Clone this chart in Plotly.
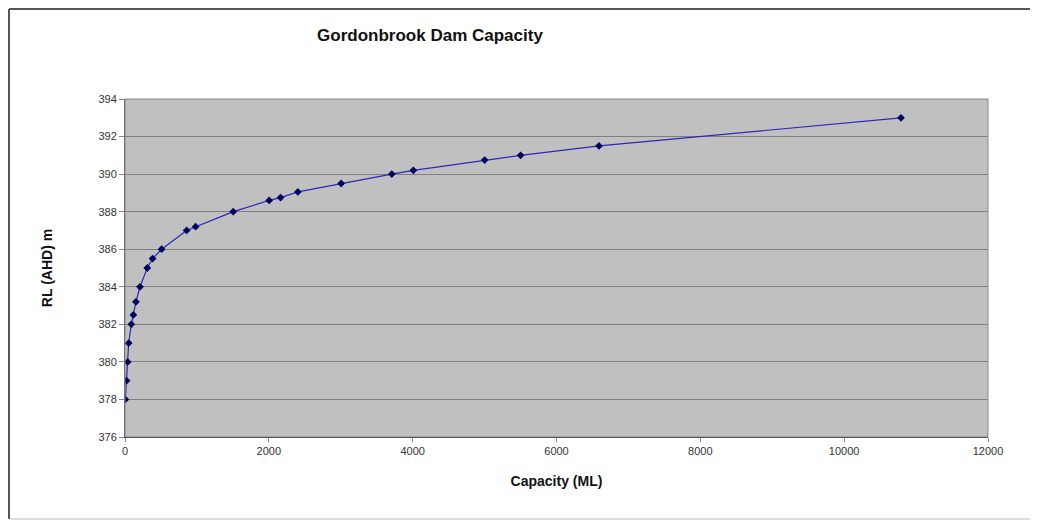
import plotly.graph_objects as go

capacity_ml = [5, 22, 37, 51, 88, 116, 152, 208, 310, 384, 509, 857, 982, 1505,
               2005, 2163, 2404, 3006, 3710, 4010, 5001, 5501, 6591, 10790]
rl_ahd_m = [378, 379, 380, 381, 382, 382.5, 383.2, 384, 385, 385.5, 386, 387, 387.2, 388,
            388.6, 388.75, 389.05, 389.5, 390, 390.2, 390.75, 391, 391.5, 393]

x_ticks = [0, 2000, 4000, 6000, 8000, 10000, 12000]
x_tick_text = ["0", "2000", "4000", "6000", "8000", "10000", "12000"]
y_ticks = [376, 378, 380, 382, 384, 386, 388, 390, 392, 394]

W, H = 1030, 514
fig = go.Figure()
fig.add_trace(go.Scatter(
    x=capacity_ml, y=rl_ahd_m, mode="lines+markers",
    line=dict(color="#2a2ab8", width=1.2),
    marker=dict(symbol="diamond", size=6, color="#000060"),
    showlegend=False,
))

bx0 = -116/863
bx1 = 1 + 50/863
by0 = -(511 - 429)/338
by1 = 1 + 90/338
border = dict(color="#555555", width=2)

fig.update_layout(
    width=W, height=H,
    margin=dict(l=117, r=50, t=91, b=85, autoexpand=False),
    paper_bgcolor="white",
    plot_bgcolor="#c0c0c0",
    font=dict(family="Liberation Sans, Arial", color="#333333", size=11),
    title=dict(text="<b>Gordonbrook Dam Capacity</b>", x=422/W, xanchor="center",
               y=1 - 27/H, yanchor="middle",
               font=dict(size=17, color="#111111", family="Liberation Sans, Arial")),
    xaxis=dict(range=[0, 12000], tickvals=x_ticks, ticktext=x_tick_text,
               showgrid=False, zeroline=False, automargin=False,
               showline=True, linecolor="#222222", linewidth=1,
               ticks="outside", ticklen=4, tickcolor="#888888",
               title=dict(text="<b>Capacity (ML)</b>", standoff=19,
                          font=dict(size=14, color="#111111"))),
    yaxis=dict(range=[376, 394], tickvals=y_ticks, showgrid=True, gridcolor="#7f7f7f",
               gridwidth=1, zeroline=False, showline=True, linecolor="#555555",
               linewidth=1, ticks="outside", ticklen=5, tickcolor="#888888",
               automargin=False,
               title=dict(text="<b>RL (AHD) m</b>", standoff=42,
                          font=dict(size=14, color="#111111"))),
    shapes=[
        dict(type="rect", xref="paper", yref="paper", x0=0, x1=1, y0=0, y1=1,
             line=dict(color="#8a8a8a", width=1), fillcolor="rgba(0,0,0,0)", layer="above"),
        dict(type="line", xref="paper", yref="paper", x0=bx0, x1=bx1, y0=by1, y1=by1, line=border),
        dict(type="line", xref="paper", yref="paper", x0=bx0, x1=bx0, y0=by0, y1=by1, line=border),
        dict(type="line", xref="paper", yref="paper", x0=bx0, x1=bx1, y0=by0, y1=by0,
             line=dict(color="#bbbbbb", width=1)),
    ],
)

fig.write_html("out.html")
